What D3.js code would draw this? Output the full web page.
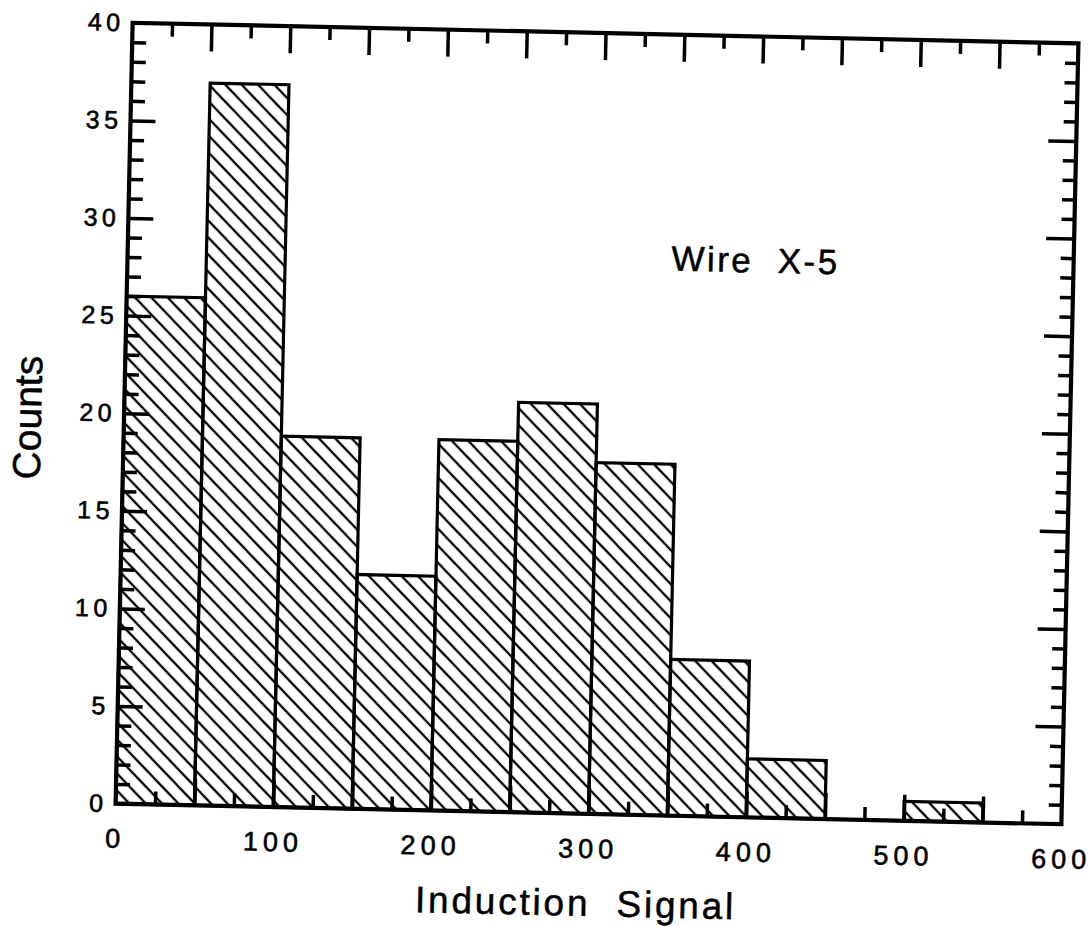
<!DOCTYPE html>
<html>
<head>
<meta charset="utf-8">
<script src="https://cdn.jsdelivr.net/npm/d3@7/dist/d3.min.js"></script>
<style>
  html, body { margin: 0; padding: 0; background: #fff; }
  svg { display: block; }
  text { font-family: "Liberation Sans", Arial, Helvetica, sans-serif; fill: #000; }
</style>
</head>
<body>
<svg id="chart" width="1090" height="927"></svg>
<script>
// ---- data ----
const binLo  = [0, 50, 100, 150, 200, 250, 300, 350, 400, 450, 500];
const binHi  = [50, 100, 150, 200, 250, 300, 350, 400, 450, 500, 550];
const counts = [26, 37, 19, 12, 19, 21, 18, 8, 3, 0, 1];
const xTicks = [0, 100, 200, 300, 400, 500, 600];
const yTicks = [0, 5, 10, 15, 20, 25, 30, 35, 40];
const xLabel = "Induction  Signal";
const yLabel = "Counts";
const note   = "Wire  X-5";

// ---- layout ----
const L = 124, R = 1070, T = 33, B = 814;
const x = d3.scaleLinear().domain([0, 600]).range([L, R]);
const y = d3.scaleLinear().domain([0, 40]).range([B, T]);

const svg = d3.select("#chart");
const defs = svg.append("defs");
const pat = defs.append("pattern")
  .attr("id", "hatch")
  .attr("patternUnits", "userSpaceOnUse")
  .attr("width", 11.8).attr("height", 11.8)
  .attr("patternTransform", "rotate(-45)");
pat.append("line")
  .attr("x1", 5.9).attr("y1", -2).attr("x2", 5.9).attr("y2", 14)
  .attr("stroke", "#000").attr("stroke-width", 2.3);

// scanned page is slightly rotated
const g = svg.append("g").attr("transform", "rotate(1.25, 597, 423.5)");

// bars
const bars = binLo.map((lo, i) => ({lo, hi: binHi[i], c: counts[i]})).filter(d => d.c > 0);
g.selectAll("rect.bar").data(bars).join("rect")
  .attr("class", "bar")
  .attr("x", d => x(d.lo))
  .attr("y", d => y(d.c))
  .attr("width", d => x(d.hi) - x(d.lo))
  .attr("height", d => y(0) - y(d.c))
  .attr("fill", "url(#hatch)")
  .attr("stroke", "#000")
  .attr("stroke-width", 3.2);

// tick marks (inward) via d3 axes
const xMinor = d3.range(25, 600, 50);
const xMajor = d3.range(50, 600, 50);
const yMinor = d3.range(1, 40, 1).filter(v => v % 5 !== 0);
const yMajor = d3.range(5, 40, 5);

function tickAxis(axis, vals, size, tx, ty) {
  const a = g.append("g").attr("transform", `translate(${tx},${ty})`)
    .call(axis.tickValues(vals).tickSize(size).tickFormat(""));
  a.select(".domain").remove();
  a.selectAll(".tick line").attr("stroke", "#000").attr("stroke-width", 3.5);
}
tickAxis(d3.axisBottom(x), xMinor, -13, 0, B);
tickAxis(d3.axisBottom(x), xMajor, -26, 0, B);
tickAxis(d3.axisTop(x), xMinor, -13, 0, T);
tickAxis(d3.axisTop(x), xMajor, -27, 0, T);
tickAxis(d3.axisLeft(y), yMinor, -14, L, 0);
tickAxis(d3.axisLeft(y), yMajor, -25, L, 0);
tickAxis(d3.axisRight(y), yMinor, -13, R, 0);
tickAxis(d3.axisRight(y), yMajor, -28, R, 0);

// frame
g.append("rect")
  .attr("x", L).attr("y", T).attr("width", R - L).attr("height", B - T)
  .attr("fill", "none").attr("stroke", "#000").attr("stroke-width", 4.2);

// tick labels
const yAx = g.append("g").attr("transform", `translate(${L},0)`)
  .call(d3.axisLeft(y).tickValues(yTicks).tickSize(0).tickPadding(8).tickFormat(d3.format("d")));
yAx.select(".domain").remove();
yAx.selectAll("text")
  .attr("font-family", "'Liberation Sans', Arial, sans-serif")
  .attr("font-size", 25).style("letter-spacing", "4.5px").attr("fill", "#000")
  .attr("stroke", "#000").attr("stroke-width", 0.6);

const xAx = g.append("g").attr("transform", `translate(0,${B})`)
  .call(d3.axisBottom(x).tickValues(xTicks).tickSize(0).tickPadding(25).tickFormat(d3.format("d")));
xAx.select(".domain").remove();
xAx.selectAll("text")
  .attr("font-family", "'Liberation Sans', Arial, sans-serif")
  .attr("font-size", 27).style("letter-spacing", "5px").attr("fill", "#000")
  .attr("stroke", "#000").attr("stroke-width", 0.6);

// axis titles
g.append("text")
  .attr("transform", "translate(41,430) rotate(-90)")
  .attr("text-anchor", "middle")
  .attr("font-size", 39)
  .attr("stroke", "#000").attr("stroke-width", 0.5)
  .style("white-space", "pre")
  .text(yLabel);

g.append("text")
  .attr("x", 586).attr("y", 916)
  .attr("text-anchor", "middle")
  .attr("font-size", 37)
  .attr("stroke", "#000").attr("stroke-width", 0.5)
  .style("letter-spacing", "2.8px")
  .style("white-space", "pre")
  .text(xLabel);

g.append("text")
  .attr("x", 752).attr("y", 269)
  .attr("text-anchor", "middle")
  .attr("font-size", 35)
  .attr("stroke", "#000").attr("stroke-width", 0.5)
  .style("letter-spacing", "2.5px")
  .style("white-space", "pre")
  .text(note);
</script>
</body>
</html>
